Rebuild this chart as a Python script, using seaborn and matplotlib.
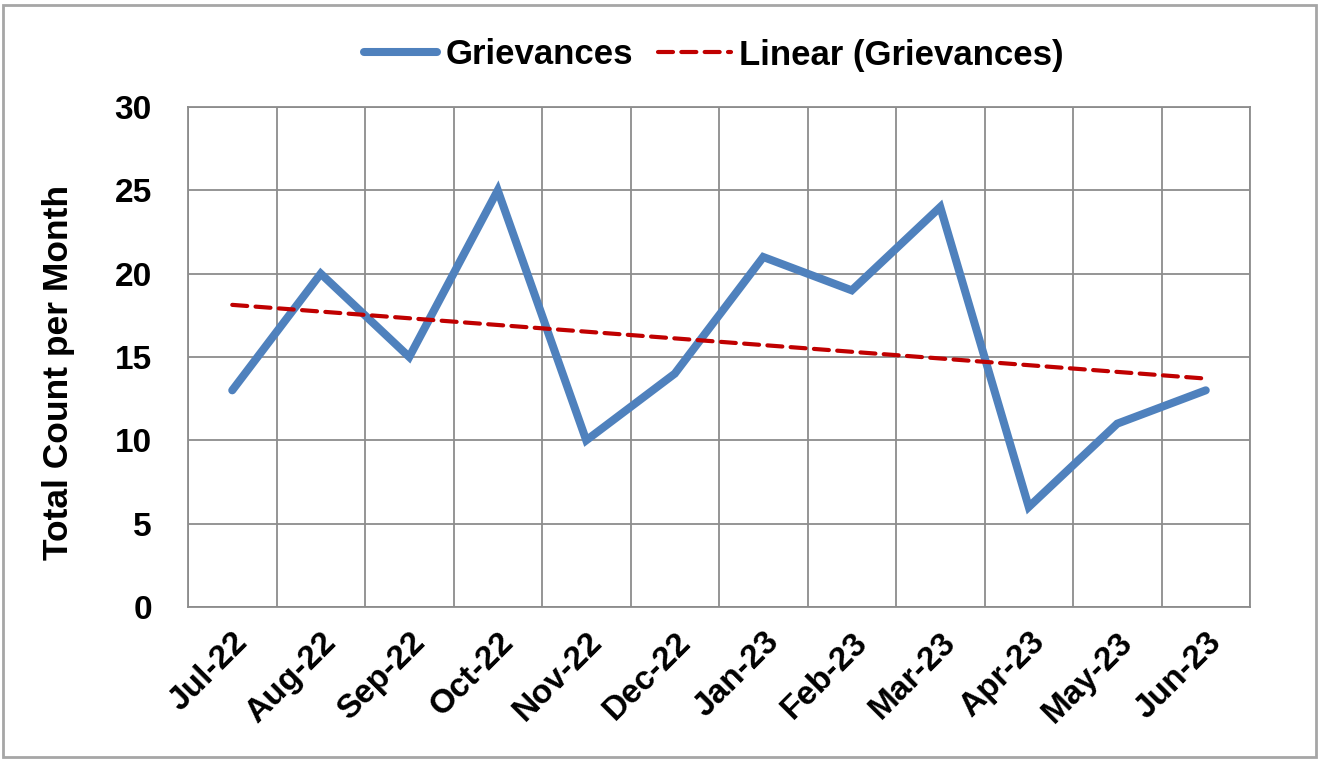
import numpy as np
import pandas as pd
import matplotlib
matplotlib.use("Agg")
import matplotlib.pyplot as plt
import seaborn as sns
from matplotlib.patches import Rectangle
from matplotlib.lines import Line2D

# Monthly grievance counts
months = ['Jul-22', 'Aug-22', 'Sep-22', 'Oct-22', 'Nov-22', 'Dec-22',
          'Jan-23', 'Feb-23', 'Mar-23', 'Apr-23', 'May-23', 'Jun-23']
grievances = [13, 20, 15, 25, 10, 14, 21, 19, 24, 6, 11, 13]
y_ticks = [0, 5, 10, 15, 20, 25, 30]

sns.set_theme(style="white")
plt.rcParams['font.family'] = ['Liberation Sans', 'DejaVu Sans']
plt.rcParams['font.weight'] = 'bold'
plt.rcParams['text.color'] = 'black'
plt.rcParams['axes.labelcolor'] = 'black'
plt.rcParams['xtick.color'] = 'black'
plt.rcParams['ytick.color'] = 'black'

df = pd.DataFrame({'month': months, 'pos': np.arange(len(months)), 'count': grievances})

# Linear trend line fitted to the data (like Excel's "Linear" trendline)
slope, intercept = np.polyfit(df['pos'], df['count'], 1)
df['trend'] = intercept + slope * df['pos']

fig = plt.figure(figsize=(13.25, 7.62), dpi=100)
ax = fig.add_axes([188 / 1325, 1 - 607 / 762, (1250 - 188) / 1325, (607 - 107) / 762])

blue = '#4F81BD'
red = '#C00000'
grid_col = '#8C8C8C'
fs = 24
dash = (0, (3.6, 2.0))

sns.lineplot(data=df, x='pos', y='count', ax=ax, color=blue, linewidth=5.8,
             solid_capstyle='round', solid_joinstyle='miter', zorder=3)
sns.lineplot(data=df, x='pos', y='trend', ax=ax, color=red, linewidth=3.0,
             linestyle=dash, dash_capstyle='round', zorder=4)

ax.set_xlim(-0.5, len(months) - 0.5)
ax.set_ylim(0, 30)
ax.set_yticks(y_ticks)
ax.set_yticklabels([str(v) for v in y_ticks], fontsize=fs, fontweight='bold')
ax.set_xticks(df['pos'])
ax.set_xticklabels(months, rotation=45, ha='right', rotation_mode='anchor',
                   fontsize=fs, fontweight='bold')
ax.set_xticks(np.arange(len(months) + 1) - 0.5, minor=True)
ax.tick_params(axis='both', which='both', length=0)
ax.tick_params(axis='y', pad=26)
ax.tick_params(axis='x', pad=14)

# gridlines: horizontal at majors, vertical between categories
ax.grid(False)
ax.yaxis.grid(True, color=grid_col, linewidth=1.3)
ax.xaxis.grid(True, which='minor', color=grid_col, linewidth=1.3)
for s in ax.spines.values():
    s.set_color(grid_col)
    s.set_linewidth(1.3)

ax.set_xlabel('')
ax.set_ylabel('Total Count per Month', fontsize=25.5, fontweight='bold')
ax.yaxis.set_label_coords(-0.106, 0.47)

handles = [Line2D([], [], color=blue, linewidth=5.8, solid_capstyle='round'),
           Line2D([], [], color=red, linewidth=3.0, linestyle=dash, dash_capstyle='round')]
fig.legend(handles, ['Grievances', 'Linear (Grievances)'], loc='center',
           bbox_to_anchor=(714 / 1325, 1 - 55 / 762), ncol=2, frameon=False,
           prop={'size': 25, 'weight': 'bold'}, handlelength=2.1,
           handletextpad=0.25, columnspacing=0.7)

# outer chart border
fig.patches.append(Rectangle((3 / 1325, 5 / 762), 1313 / 1325, 752 / 762,
                             transform=fig.transFigure, fill=False,
                             edgecolor='#A6A6A6', linewidth=2))

fig.savefig('out.png', dpi=100)
